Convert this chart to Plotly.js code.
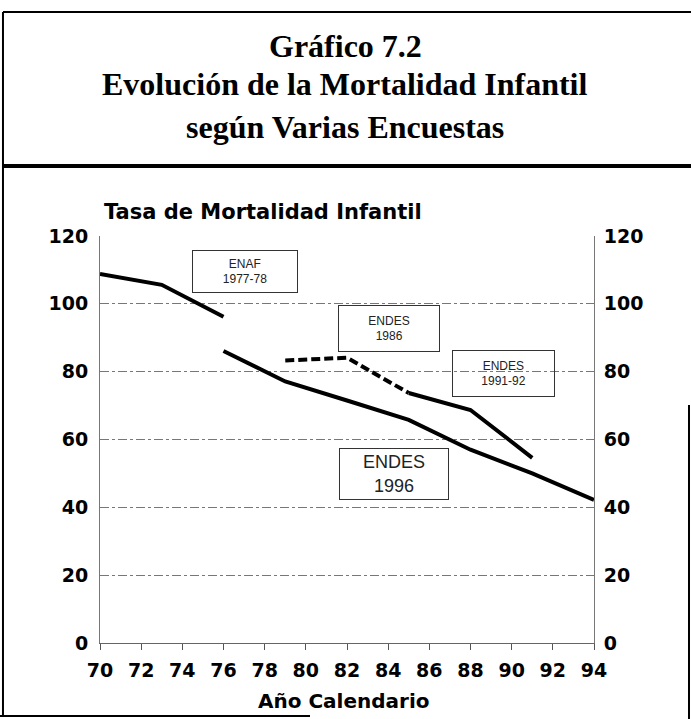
<!DOCTYPE html>
<html>
<head>
<meta charset="utf-8">
<script src="https://cdn.plot.ly/plotly-3.0.1.min.js"></script>
<style>
  html, body { margin: 0; padding: 0; background: #fff; }
  #chart { width: 691px; height: 719px; }
</style>
</head>
<body>
<div id="chart"></div>
<script>
// años calendario y tasas de mortalidad infantil
var enafYears = [70, 73, 76];
var enafTmi = [108.8, 105.6, 96.2];

var endes86Years = [79, 82, 85];
var endes86Tmi = [83.3, 84.1, 73.7];

var endes91Years = [85, 88, 91];
var endes91Tmi = [73.7, 68.7, 54.6];

var endes96Years = [76, 79, 82, 85, 88, 91, 94];
var endes96Tmi = [86.1, 77.1, 71.5, 65.8, 57, 50, 42.2];

var xTicks = [70, 72, 74, 76, 78, 80, 82, 84, 86, 88, 90, 92, 94];
var yTicks = [0, 20, 40, 60, 80, 100, 120];

var tituloLineas = ['Gráfico 7.2', 'Evolución de la Mortalidad Infantil', 'según Varias Encuestas'];

var boldFont = { family: 'DejaVu Sans', size: 19, weight: 700, color: '#000' };

function serie(x, y, dash, name) {
  return {
    x: x, y: y, name: name, type: 'scatter', mode: 'lines',
    line: { color: '#000', width: 4, dash: dash },
    cliponaxis: false, showlegend: false
  };
}

var data = [
  serie(enafYears, enafTmi, 'solid', 'ENAF 1977-78'),
  serie(endes86Years, endes86Tmi, '9px,4px', 'ENDES 1986'),
  serie(endes91Years, endes91Tmi, 'solid', 'ENDES 1991-92'),
  serie(endes96Years, endes96Tmi, 'solid', 'ENDES 1996')
];

// serie fantasma para activar el eje derecho
data.push({ x: [70], y: [0], yaxis: 'y2', mode: 'markers', marker: { opacity: 0 },
  showlegend: false, hoverinfo: 'skip' });

// caja de texto para cada encuesta
function caja(x, y, texto, w, h, size) {
  return {
    x: x, y: y, xref: 'x', yref: 'y', text: texto, showarrow: false,
    width: w, height: h, borderpad: 0, bordercolor: '#333', borderwidth: 1,
    font: { family: 'Liberation Sans', size: size, color: '#222' }
  };
}

// marco alrededor de titulo y grafico (coordenadas paper)
function linea(x0, y0, x1, y1, w) {
  return { type: 'line', xref: 'paper', yref: 'paper', x0: x0, y0: y0, x1: x1, y1: y1,
    line: { color: '#000', width: w } };
}

var anotaciones = [
  {
    xref: 'paper', yref: 'paper', x: 0.004, y: 1.059, xanchor: 'left', yanchor: 'middle',
    text: 'Tasa de Mortalidad Infantil', showarrow: false,
    font: { family: 'DejaVu Sans', size: 21, weight: 700, color: '#000' }
  },
  {
    xref: 'paper', yref: 'paper', x: 0.4939, y: -0.1425, xanchor: 'center', yanchor: 'middle',
    text: 'Año Calendario', showarrow: false,
    font: { family: 'DejaVu Sans', size: 20, weight: 700, color: '#000' }
  },
  caja(77.04, 109.6, 'ENAF<br>1977-78', 104, 41, 12),
  caja(84.03, 92.8, 'ENDES<br>1986', 100, 45, 12),
  caja(89.6, 79.5, 'ENDES<br>1991-92', 101, 45, 12),
  caja(84.3, 49.9, 'ENDES<br>1996', 108, 50, 18)
];

var tituloY = [1.4668, 1.3735, 1.2678];
tituloLineas.forEach(function(t, i) {
  anotaciones.push({
    xref: 'paper', yref: 'paper', x: 0.496, y: tituloY[i], xanchor: 'center', yanchor: 'middle',
    text: t, showarrow: false,
    font: { family: 'Liberation Serif', size: 32, weight: 700, color: '#000' }
  });
});

var layout = {
  width: 691,
  height: 719,
  margin: { l: 100, r: 97, t: 236, b: 76 },
  paper_bgcolor: '#fff',
  plot_bgcolor: '#fff',
  xaxis: {
    range: [70, 94],
    tickvals: xTicks,
    ticks: 'outside', ticklen: 6, tickcolor: '#555',
    ticklabelstandoff: 4,
    showgrid: false, zeroline: false,
    showline: true, linecolor: '#666', linewidth: 1,
    tickfont: boldFont
  },
  yaxis: {
    range: [0, 120],
    tickvals: yTicks,
    ticks: '',
    ticklabelstandoff: 7,
    showgrid: true, gridcolor: '#777', gridwidth: 1, griddash: 'dashdot',
    zeroline: false,
    showline: true, linecolor: '#777', linewidth: 1,
    tickfont: boldFont
  },
  yaxis2: {
    range: [0, 120],
    tickvals: yTicks,
    overlaying: 'y', side: 'right',
    ticks: '',
    ticklabelstandoff: 5,
    showgrid: false, zeroline: false,
    showline: true, linecolor: '#777', linewidth: 1,
    tickfont: boldFont
  },
  annotations: anotaciones,
  shapes: [
    linea(-0.1964, 1.5504, 1.2, 1.5504, 2),
    linea(-0.1964, 1.5504, -0.1964, -0.1794, 2),
    linea(-0.1964, 1.1719, 1.2, 1.1719, 4),
    linea(-0.2024, -0.1794, 0.4251, -0.1794, 2),
    linea(1.1923, 0.5848, 1.1923, -0.1867, 2)
  ]
};

Plotly.newPlot('chart', data, layout, { displayModeBar: false, staticPlot: true });
</script>
</body>
</html>
